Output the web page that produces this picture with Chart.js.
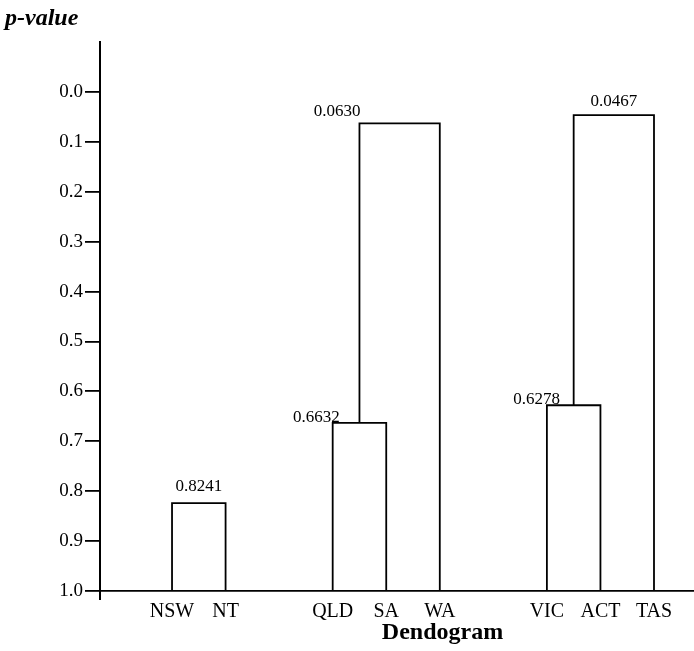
<!DOCTYPE html>
<html>
<head>
<meta charset="utf-8">
<script src="https://cdn.jsdelivr.net/npm/chart.js@4.4.1/dist/chart.umd.min.js"></script>
<style>
  html, body { margin: 0; padding: 0; background: #fff; }
</style>
</head>
<body>
<canvas id="grafico" width="694" height="651"></canvas>
<script>
// Hojas del dendograma y su orden en el eje x
const hojas = ['NSW', 'NT', 'QLD', 'SA', 'WA', 'VIC', 'ACT', 'TAS'];
const posHojas = [0, 1, 3, 4, 5, 7, 8, 9];

// Uniones: hijo izquierdo, hijo derecho y p-value de la union
const unionIzq = ['NSW', 'QLD', 'u1', 'VIC', 'u3'];
const unionDer = ['NT', 'SA', 'WA', 'ACT', 'TAS'];
const unionP = [0.8241, 0.6632, 0.0630, 0.6278, 0.0467];

// Marcas del eje y
const ticksY = [0.0, 0.1, 0.2, 0.3, 0.4, 0.5, 0.6, 0.7, 0.8, 0.9, 1.0];

// Colocacion de las etiquetas de cada union
const etqAlign = ['center', 'right', 'right', 'right', 'center'];
const etqDx = [0, 7, 1, 13, 0];
const etqDy = [-12, -1, -7, -1, -9];

const fuente = '"Liberation Serif", "Times New Roman", serif';

// Posicion de cada nodo (hojas en p = 1.0)
const nodo = {};
hojas.forEach((h, i) => { nodo[h] = { x: posHojas[i], y: 1.0 }; });
unionP.forEach((p, i) => {
    const a = nodo[unionIzq[i]], b = nodo[unionDer[i]];
    nodo['u' + i] = { x: (a.x + b.x) / 2, y: p };
});

const datasets = unionP.map((p, i) => {
    const a = nodo[unionIzq[i]], b = nodo[unionDer[i]];
    return {
        data: [
            { x: a.x, y: a.y },
            { x: a.x, y: p },
            { x: b.x, y: p },
            { x: b.x, y: b.y }
        ],
        showLine: true,
        borderColor: '#000',
        borderWidth: 1.8,
        pointRadius: 0,
        tension: 0
    };
});

const etiquetas = {
    id: 'etiquetas',
    afterDatasetsDraw(chart) {
        const { ctx, scales: { x, y }, chartArea } = chart;
        ctx.save();
        ctx.fillStyle = '#000';
        ctx.font = '17px ' + fuente;
        ctx.textBaseline = 'alphabetic';
        unionP.forEach((p, i) => {
            const a = nodo[unionIzq[i]], b = nodo[unionDer[i]];
            const xa = x.getPixelForValue(a.x);
            const xb = x.getPixelForValue(b.x);
            const yp = y.getPixelForValue(p);
            ctx.textAlign = etqAlign[i];
            const tx = etqAlign[i] === 'center' ? (xa + xb) / 2 : xa;
            ctx.fillText(p.toFixed(4), tx + etqDx[i], yp + etqDy[i]);
        });
        // titulo del eje x (desplazado a la derecha como en el original)
        ctx.font = 'bold 24px ' + fuente;
        ctx.textAlign = 'center';
        ctx.textBaseline = 'middle';
        ctx.fillText('Dendogram', x.getPixelForValue(5.05), chartArea.bottom + 42);
        // el eje y baja un poco por debajo de la base
        ctx.strokeStyle = '#000';
        ctx.lineWidth = 2;
        ctx.beginPath();
        ctx.moveTo(chartArea.left, chartArea.bottom);
        ctx.lineTo(chartArea.left, chartArea.bottom + 9);
        ctx.stroke();
        ctx.restore();
    }
};

new Chart(document.getElementById('grafico').getContext('2d'), {
    type: 'scatter',
    data: { datasets },
    plugins: [etiquetas],
    options: {
        responsive: false,
        animation: false,
        layout: { padding: { left: 5, right: 0, top: 0, bottom: 0 } },
        plugins: {
            legend: { display: false },
            tooltip: { enabled: false },
            title: {
                display: true,
                text: 'p-value',
                align: 'start',
                color: '#000',
                font: { family: fuente, size: 24, weight: 'bold', style: 'italic' },
                padding: { top: 4, bottom: 9.2 }
            }
        },
        scales: {
            x: {
                type: 'linear',
                min: -1.345,
                max: 9.747,
                afterBuildTicks: s => { s.ticks = posHojas.map(v => ({ value: v })); },
                afterFit: s => { s.height = 60; },
                ticks: {
                    callback: v => hojas[posHojas.indexOf(v)],
                    color: '#000',
                    font: { family: fuente, size: 20 },
                    autoSkip: false,
                    maxRotation: 0,
                    padding: 9
                },
                grid: { display: false, drawTicks: false },
                border: { color: '#000', width: 1.8 }
            },
            y: {
                type: 'linear',
                reverse: true,
                min: -0.1,
                max: 1.0,
                afterBuildTicks: s => { s.ticks = ticksY.map(v => ({ value: v })); },
                afterFit: s => { s.width = 95; },
                ticks: {
                    callback: v => v.toFixed(1),
                    color: '#000',
                    font: { family: fuente, size: 19 },
                    padding: 2
                },
                grid: {
                    drawOnChartArea: false,
                    tickLength: 15,
                    color: '#000',
                    lineWidth: 1.8
                },
                border: { color: '#000', width: 2 }
            }
        }
    }
});
</script>
</body>
</html>
